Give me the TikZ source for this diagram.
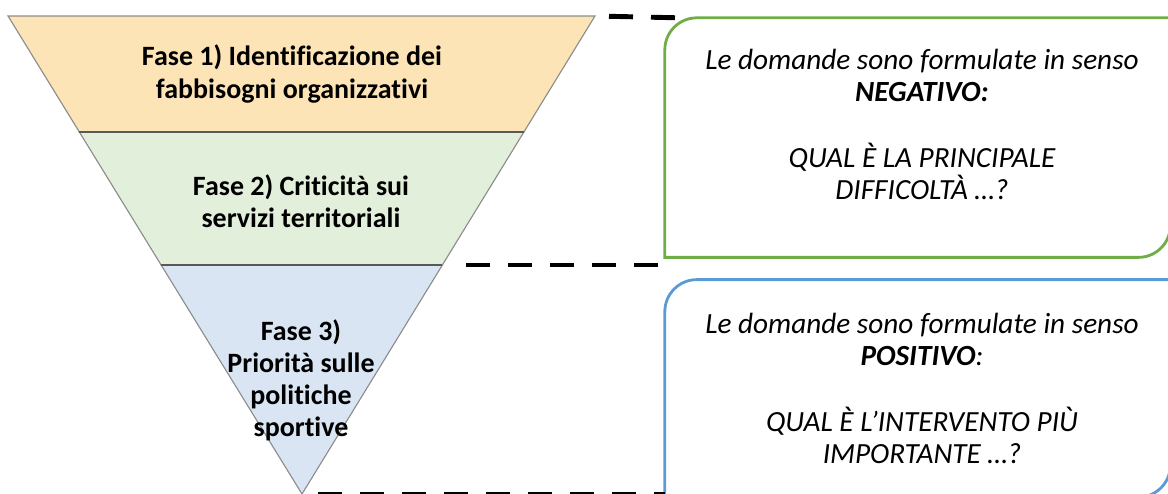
\documentclass[tikz,border=0pt]{standalone}
\usepackage{fontspec}
\setmainfont{Carlito}[Ligatures={NoCommon}]
\usepackage{tikz}
\usetikzlibrary{calc}
\usetikzlibrary{positioning}

\definecolor{fase1col}{HTML}{FCE4B6}
\definecolor{fase2col}{HTML}{E2EFDA}
\definecolor{fase3col}{HTML}{DAE5F3}
\definecolor{funnelgray}{HTML}{8C8C8C}
\definecolor{neggreen}{HTML}{70AD47}
\definecolor{posblue}{HTML}{5B9BD5}

\begin{document}
\begin{tikzpicture}[fase/.style={draw=funnelgray, line width=0.8pt},
			faselabel/.style={font=\bfseries\fontsize{19.9}{22.8}\selectfont, align=center},
			question/.style={font=\itshape\fontsize{20.8}{22.8}\selectfont, align=center},
			qbox/.style={rectangle, minimum width=12.625cm, inner sep=0pt},
			dashline/.style={draw, line width=3.5pt, dash pattern=on 0.6cm off 0.45cm}]
			\useasboundingbox (0,0) rectangle (29.2,-12.35);
			
			% funnel
			\coordinate (tl) at (0.2,-0.4);
			\coordinate (tr) at (14.875,-0.4);
			\coordinate (apex) at (7.55,-12.35);
			\coordinate (ml1) at ($(tl)!0.2427!(apex)$);
			\coordinate (mr1) at ($(tr)!0.2427!(apex)$);
			\coordinate (ml2) at ($(tl)!0.5209!(apex)$);
			\coordinate (mr2) at ($(tr)!0.5209!(apex)$);
			
			\filldraw[fase, fill=fase1col] (tl) -- (tr) -- (mr1) -- (ml1) -- cycle;
			\filldraw[fase, fill=fase2col] (ml1) -- (mr1) -- (mr2) -- (ml2) -- cycle;
			\filldraw[fase, fill=fase3col] (ml2) -- (mr2) -- (apex) -- cycle;
			\draw[line width=1.2pt, black!65] (ml1) -- (mr1);
			\draw[line width=1.2pt, black!65] (ml2) -- (mr2);
			
			\node[faselabel](fase1) at (7.3, -1.85) {Fase 1) Identificazione dei\\fabbisogni organizzativi};
			\node[faselabel](fase2) at (7.525, -5.03) {Fase 2) Criticità sui\\servizi territoriali};
			\node[faselabel](fase3) at (7.525, -9.5) {Fase 3)\\Priorità sulle\\politiche\\sportive};
			
			% question boxes, round diagonal corners
			\node[qbox, minimum height=5.975cm](negbox) at (22.94, -3.44) {};
			\node[qbox, minimum height=5.425cm](posbox) at (22.94, -9.71) {};
			\draw[neggreen, line width=2pt] (negbox.north east) -- ($(negbox.north west)+(0.8,0)$)
				arc[start angle=90, end angle=180, radius=0.8] -- (negbox.south west)
				-- ($(negbox.south east)+(-0.8,0)$) arc[start angle=270, end angle=360, radius=0.8] -- cycle;
			\draw[posblue, line width=2pt] (posbox.north east) -- ($(posbox.north west)+(0.8,0)$)
				arc[start angle=90, end angle=180, radius=0.8] -- (posbox.south west)
				-- ($(posbox.south east)+(-0.8,0)$) arc[start angle=270, end angle=360, radius=0.8] -- cycle;
			
			\node[question](negtext) at (23.05, -3.12) {Le domande sono formulate in senso\\\textbf{NEGATIVO:}\\[0.85cm]QUAL È LA PRINCIPALE\\DIFFICOLTÀ …?};
			\node[question](postext) at (23.05, -9.72) {Le domande sono formulate in senso\\\textbf{POSITIVO}:\\[0.85cm]QUAL È L’INTERVENTO PIÙ\\IMPORTANTE …?};
			
			% dashed guides
			\draw[dashline, shorten <=0.35cm] (tr) -- ($(negbox.north west)+(0.35,0)$);
			\draw[dashline, shorten <=0.59cm] (mr2) -- (mr2 -| negbox.west);
			\draw[dashline, shorten <=0.4cm] (apex) -- (apex -| posbox.west);
		\end{tikzpicture}
\end{document}
